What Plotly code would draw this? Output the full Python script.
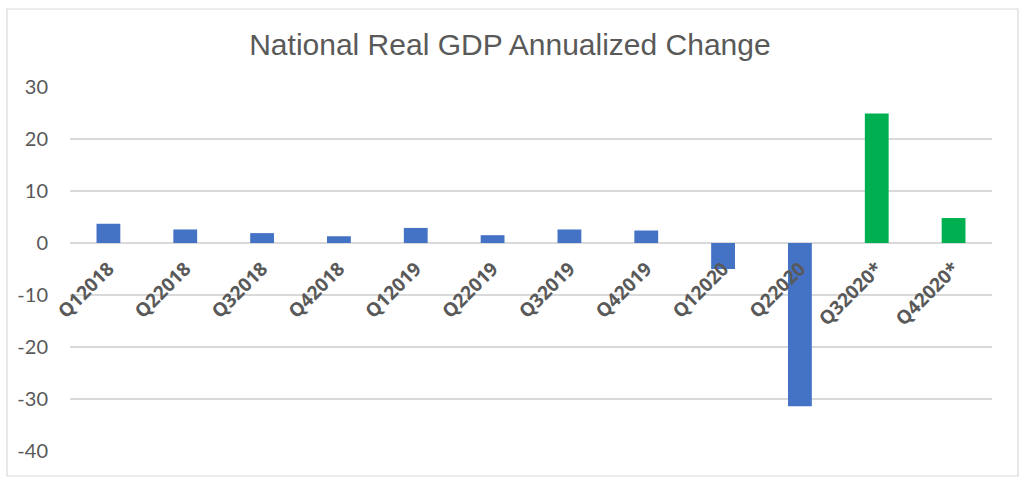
import plotly.graph_objects as go

categories = ["Q12018", "Q22018", "Q32018", "Q42018", "Q12019", "Q22019",
              "Q32019", "Q42019", "Q12020", "Q22020", "Q32020*", "Q42020*"]
values = [3.7, 2.6, 1.9, 1.3, 2.9, 1.5, 2.6, 2.4, -5.0, -31.4, 24.9, 4.8]
bar_colors = ["#4472C4"] * 10 + ["#00B050"] * 2

y_min, y_max = -40, 30
y_tick_vals = [-40, -30, -20, -10, 0, 10, 20, 30]
y_tick_text = ["-40", "-30", "-20", "-10", "0", "10", "20", "30"]

fig = go.Figure()
fig.add_trace(go.Bar(
    x=categories, y=values,
    marker=dict(color=bar_colors, line=dict(width=0)),
    width=0.31,
    hoverinfo="x+y",
))

grey = "#595959"
fig.update_layout(
    width=1024, height=485,
    margin=dict(l=70, r=32, t=87, b=34, autoexpand=False),
    paper_bgcolor="white", plot_bgcolor="white",
    showlegend=False,
    title=dict(text="National Real GDP Annualized Change",
               x=0.498, xref="container", xanchor="center",
               y=1 - 44 / 485, yref="container", yanchor="middle",
               font=dict(family="Liberation Sans, Arial, sans-serif", size=30, color=grey)),
    font=dict(family="Lato, sans-serif", color=grey),
    xaxis=dict(
        type="category",
        anchor="free",
        position=(0 - y_min) / (y_max - y_min),
        showline=False, showgrid=False, zeroline=False, ticks="",
        tickangle=-45,
        ticklabelstandoff=10,
        tickfont=dict(family="Open Sans, sans-serif", size=19, color=grey, weight=700),
    ),
    yaxis=dict(
        range=[y_min, y_max],
        tickvals=y_tick_vals, ticktext=y_tick_text,
        showgrid=True, gridcolor="#D9D9D9", gridwidth=1.5,
        zeroline=True, zerolinecolor="#D9D9D9", zerolinewidth=1.5,
        showline=False, ticks="",
        ticklabelstandoff=21,
        tickfont=dict(family="Lato, sans-serif", size=20, color=grey),
    ),
    shapes=[dict(type="rect", xref="paper", yref="paper",
                 x0=-63 / 922, x1=1 + 26 / 922,
                 y0=-25 / 364, y1=1 + 78 / 364,
                 line=dict(color="#D9D9D9", width=1.2), fillcolor="rgba(0,0,0,0)",
                 layer="below")],
)

fig.write_html("out.html", config={"displayModeBar": False},
               post_script="document.body.style.margin='0';document.body.style.overflow='hidden';")
